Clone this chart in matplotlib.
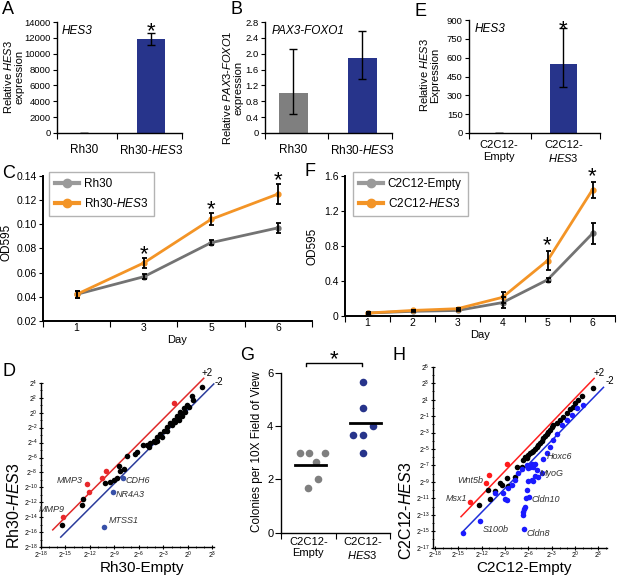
import numpy as np
import matplotlib
matplotlib.use('Agg')
import matplotlib.pyplot as plt
from matplotlib.ticker import FixedLocator, MultipleLocator, NullFormatter
from matplotlib.lines import Line2D

plt.rcParams['font.family'] = ['Liberation Sans', 'DejaVu Sans']
plt.rcParams['mathtext.fontset'] = 'custom'
plt.rcParams['mathtext.rm'] = 'Liberation Sans'
plt.rcParams['mathtext.it'] = 'Liberation Sans:italic'
plt.rcParams['mathtext.bf'] = 'Liberation Sans:bold'

NAVY = '#27348b'
GREY = '#7f7f7f'
LINE_GREY = '#737373'
ORANGE = '#f39426'

# ---------------- data ----------------
# A: relative HES3 expression in Rh30 cells
a_labels = ['Rh30', r'Rh30-$\mathit{HES3}$']
a_vals = [1, 11800]
a_err_lo = [0, 700]
a_err_hi = [0, 775]

# B: relative PAX3-FOXO1 expression
b_labels = ['Rh30', r'Rh30-$\mathit{HES3}$']
b_vals = [1.02, 1.88]
b_err_lo = [0.53, 0.52]
b_err_hi = [1.11, 0.70]

# E: relative HES3 expression in C2C12 cells
e_labels = ['C2C12-\nEmpty', 'C2C12-\n$\\mathit{HES3}$']
e_vals = [1, 550]
e_err_lo = [0, 185]
e_err_hi = [0, 286]

# C: Rh30 growth (OD595)
c_days = ['1', '3', '5', '6']
c_rh30 = [0.042, 0.0566, 0.0847, 0.0970]
c_rh30_err = [0.003, 0.002, 0.002, 0.004]
c_hes3 = [0.042, 0.068, 0.104, 0.125]
c_hes3_err = [0.003, 0.004, 0.005, 0.008]
c_sig = [1, 2, 3]

# F: C2C12 growth (OD595)
f_days = ['1', '2', '3', '4', '5', '6']
f_empty = [0.03, 0.05, 0.06, 0.15, 0.41, 0.94]
f_empty_err = [0.01, 0.01, 0.01, 0.06, 0.02, 0.12]
f_hes3 = [0.03, 0.06, 0.08, 0.21, 0.63, 1.44]
f_hes3_err = [0.01, 0.01, 0.01, 0.06, 0.11, 0.09]
f_sig = [4, 5]

# D: log2 expression, Rh30-Empty (x) vs Rh30-HES3 (y)
d_black_x = [-15.46, -13.0, -12.8, -10.14, -9.6, -9.11, -8.7, -8.5, -8.38, -7.8,
             -7.48, -6.45, -6.25, -5.51, -5.02, -4.61, -4.2, -3.79, -3.38, -2.97,
             -2.56, -2.15, -1.74, -1.33, -0.92, -0.51, -0.1, 0.51, 0.63, 1.74,
             -4.81, -4.0, -2.56, -1.95, -1.54, -1.13, -0.72, -0.31, 0.1, -3.79, -3.18]
d_black_y = [-15.0, -12.33, -11.58, -9.35, -9.22, -9.0, -8.77, -7.13, -7.75, -7.57,
             -5.75, -5.52, -5.21, -4.32, -4.32, -4.1, -3.74, -3.21, -2.85, -2.41,
             -1.96, -1.43, -0.98, -0.45, 0.13, 0.57, 1.02, 2.22, 1.69, 3.47,
             -4.54, -3.88, -2.41, -1.65, -1.21, -0.98, -0.45, 0.13, 0.8, -3.74, -3.21]
d_red_x = [-15.26, -12.31, -12.06, -10.55, -10.01, -1.74]
d_red_y = [-13.89, -9.57, -10.64, -8.68, -7.75, 1.33]
d_blue_x = [-10.26, -9.2, -7.97]
d_blue_y = [-15.31, -10.64, -8.68]
d_up_line = ([-16.56, 1.94], [-15.67, 4.59])
d_dn_line = ([-15.58, 3.17], [-16.64, 3.83])
d_genes = ['MMP3', 'MMP9', 'CDH6', 'NR4A3', 'MTSS1']
d_gene_x = [-12.84, -15.05, -7.68, -8.9, -9.73]
d_gene_y = [-9.1, -12.9, -9.1, -11.0, -14.4]
d_gene_ha = ['right', 'right', 'left', 'left', 'left']

# H: log2 expression, C2C12-Empty (x) vs C2C12-HES3 (y)
h_black_x = [-12.3, -11.14, -10.93, -10.28, -9.64, -8.78, -8.57, -9.43, -7.71, -7.5,
             -6.86, -6.64, -6.43, -6.21, -6.0, -5.78, -5.57, -5.36, -5.14, -4.93,
             -4.71, -4.5, -4.28, -4.07, -3.86, -3.64, -3.43, -3.21, -3.0, -2.78,
             -2.35, -1.93, -1.5, -1.07, -0.64, -0.3, 0.0, 0.43, 0.86, 2.36]
h_black_y = [-11.82, -10.0, -11.13, -10.07, -9.18, -8.57, -9.51, -9.38, -8.37, -7.16,
             -7.16, -6.35, -5.94, -6.14, -5.74, -5.53, -5.33, -5.21, -5.05, -4.72,
             -4.52, -4.32, -4.0, -3.71, -3.43, -3.18, -2.9, -2.7, -2.37, -2.09,
             -1.81, -1.48, -1.08, -0.67, -0.19, 0.14, 0.54, 0.95, 1.43, 2.37]
h_red_x = [-13.5, -11.44, -11.01, -8.7]
h_red_y = [-11.41, -9.1, -8.17, -6.87]
h_blue_x = [-14.36, -12.21, -10.28, -9.21, -9.0, -8.78, -8.57, -8.14, -7.71, -7.28,
            -6.86, -6.21, -6.0, -5.78, -5.57, -5.36, -5.14, -4.93, -5.14, -5.36,
            -6.0, -5.57, -6.13, -5.87, -6.3, -6.56, -6.73, -6.64, -6.56, -6.43,
            -4.07, -4.71, -4.28, -3.64, -3.21, -2.78, -2.35, -1.71, -1.07, -0.43,
            0.21, 1.07]
h_blue_y = [-15.18, -13.72, -10.4, -10.32, -11.13, -11.21, -9.79, -9.38, -8.78, -7.88,
            -7.48, -6.95, -7.36, -7.16, -6.83, -7.16, -6.83, -7.56, -8.29, -8.86,
            -8.86, -8.78, -9.99, -10.8, -11.0, -14.77, -13.03, -12.63, -12.34, -12.02,
            -6.26, -8.37, -7.97, -5.53, -4.72, -3.91, -3.18, -2.09, -1.48, -0.88,
            -0.06, 0.34]
h_up_line = ([-14.66, 2.45], [-13.23, 3.58])
h_dn_line = ([-14.57, 3.65], [-15.18, 2.49])
h_genes = ['Hoxc6', 'MyoG', 'Cldn10', 'S100b', 'Cldn8', 'Wnt5b', 'Msx1']
h_gene_x = [-3.64, -4.5, -5.57, -11.87, -6.21, -11.78, -13.84]
h_gene_y = [-5.86, -7.97, -11.09, -14.77, -15.26, -8.86, -11.0]
h_gene_ha = ['left', 'left', 'left', 'left', 'left', 'right', 'right']

# G: colonies per 10X field of view
g_labels = ['C2C12-\nEmpty', 'C2C12-\n$\\mathit{HES3}$']
g_empty = [3.0, 3.0, 3.0, 2.67, 2.0, 1.67]
g_hes3 = [5.67, 4.67, 4.0, 3.67, 3.67, 3.0]

# ---------------- layout helpers ----------------
W, H = 617, 575
fig = plt.figure(figsize=(W / 100, H / 100), dpi=100)


def px_axes(l, t, r, b):
    return fig.add_axes([l / W, 1 - b / H, (r - l) / W, (b - t) / H])


def px_text(x, y, s, **kw):
    fig.text(x / W, 1 - y / H, s, **kw)


def clean(ax, lw=1.0):
    for s in ['top', 'right']:
        ax.spines[s].set_visible(False)
    for s in ['left', 'bottom']:
        ax.spines[s].set_linewidth(lw)


def cat_axis(ax, n, labels, lo, hi, size, pad):
    ax.set_xlim(lo, hi)
    bounds = [lo] + [i + 0.5 for i in range(n - 1)] + [hi]
    ax.xaxis.set_major_locator(FixedLocator(bounds))
    ax.xaxis.set_major_formatter(NullFormatter())
    ax.xaxis.set_minor_locator(FixedLocator(list(range(n))))
    ax.set_xticklabels(labels, minor=True)
    ax.tick_params(axis='x', which='major', length=4, direction='out')
    ax.tick_params(axis='x', which='minor', length=0, labelsize=size, pad=pad)


def fmt_num(v, dec):
    return '0' if abs(v) < 1e-9 else f'{v:.{dec}f}'


def star(ax, x, y, dy):
    ax.annotate('*', xy=(x, y), xytext=(0, dy), textcoords='offset points',
                ha='center', va='baseline', fontsize=16, annotation_clip=False)


def bar_panel(ax, vals, lo, hi, colors, ymax, step, dec, labels, xlo, xhi, lsize, pad):
    x = np.arange(len(vals))
    ax.bar(x, vals, width=0.42, color=colors, zorder=2)
    ax.errorbar(x, vals, yerr=[lo, hi], fmt='none', ecolor='black',
                elinewidth=1.0, capsize=3, capthick=1.0, zorder=3)
    ax.set_ylim(0, ymax)
    ticks = np.arange(0, ymax + step / 2, step)
    ax.set_yticks(ticks)
    ax.set_yticklabels([fmt_num(t, dec) for t in ticks])
    ax.tick_params(axis='y', length=3, labelsize=6.8, pad=1.5)
    cat_axis(ax, len(vals), labels, xlo, xhi, lsize, pad)
    clean(ax)


# ---------------- A ----------------
axA = px_axes(57, 22, 182, 133)
bar_panel(axA, a_vals, a_err_lo, a_err_hi, [GREY, NAVY], 14000, 2000, 0,
          a_labels, -0.4, 1.47, 8.5, 8)
axA.text(0.04, 0.97, 'HES3', transform=axA.transAxes, style='italic',
         fontsize=8.5, ha='left', va='top')
star(axA, 1, a_vals[1] + a_err_hi[1], -2.5)
px_text(13, 77, 'Relative $\\mathit{HES3}$\nexpression', rotation=90,
        ha='center', va='center', fontsize=8, linespacing=1.1)

# ---------------- B ----------------
axB = px_axes(265, 22, 392, 133)
bar_panel(axB, b_vals, b_err_lo, b_err_hi, [GREY, NAVY], 2.8, 0.4, 1,
          b_labels, -0.41, 1.43, 8.5, 8)
axB.text(0.05, 0.97, 'PAX3-FOXO1', transform=axB.transAxes, style='italic',
         fontsize=8.5, ha='left', va='top')
px_text(232, 88, 'Relative $\\mathit{PAX3}$-$\\mathit{FOXO1}$\nexpression',
        rotation=90, ha='center', va='center', fontsize=8, linespacing=1.1)

# ---------------- E ----------------
axE = px_axes(469, 20, 600, 133)
bar_panel(axE, e_vals, e_err_lo, e_err_hi, [GREY, NAVY], 900, 150, 0,
          e_labels, -0.47, 1.57, 8, 5)
axE.text(0.04, 0.97, 'HES3', transform=axE.transAxes, style='italic',
         fontsize=8.5, ha='left', va='top')
star(axE, 1, e_vals[1] + e_err_hi[1], -5)
px_text(429, 75, 'Relative $\\mathit{HES3}$\nExpression', rotation=90,
        ha='center', va='center', fontsize=8, linespacing=1.1)


# ---------------- growth curves ----------------
def growth_panel(ax, days, s1, e1, s2, e2, names, ylim, step, dec, sig, sig_dy, leg_xy):
    x = np.arange(len(days))
    ax.plot(x, s1, color=LINE_GREY, lw=2.0, marker='o', ms=3.5, zorder=2)
    ax.plot(x, s2, color=ORANGE, lw=2.0, marker='o', ms=3.5, zorder=2)
    for s, e in [(s1, e1), (s2, e2)]:
        ax.errorbar(x, s, yerr=e, fmt='none', ecolor='black', elinewidth=1.3,
                    capsize=1.8, capthick=1.3, zorder=3)
    for i in sig:
        star(ax, i, s2[i] + e2[i], sig_dy)
    ax.set_ylim(*ylim)
    ticks = np.arange(ylim[0], ylim[1] + step / 2, step)
    ax.set_yticks(ticks)
    ax.set_yticklabels([fmt_num(t, dec) for t in ticks])
    ax.tick_params(axis='y', length=3, labelsize=7.5, pad=1.5)
    cat_axis(ax, len(days), days, -0.5, len(days) - 0.5, 7.5, 1.5)
    clean(ax, 1.4)
    handles = [Line2D([0], [0], color='#9a9a9a' if k == 0 else ORANGE, lw=3,
                      marker='o', ms=6) for k in range(2)]
    ax.legend(handles, names, loc='upper left',
              bbox_to_anchor=(leg_xy[0] / W, 1 - leg_xy[1] / H),
              bbox_transform=fig.transFigure, borderaxespad=0, fontsize=8.5,
              frameon=True, fancybox=False, edgecolor='#a0a0a0',
              handlelength=2.0, handletextpad=0.4, borderpad=0.55,
              labelspacing=0.55)
    ax.set_xlabel('Day', fontsize=8, labelpad=1.5)


axC = px_axes(43, 175.7, 312, 321)
growth_panel(axC, c_days, c_rh30, c_rh30_err, c_hes3, c_hes3_err,
             ['Rh30', r'Rh30-$\mathit{HES3}$'], (0.02, 0.14), 0.02, 2,
             c_sig, -1.5, (49, 172))
px_text(7, 242, 'OD595', rotation=90, ha='center', va='center', fontsize=8.5)

axF = px_axes(345, 175.7, 615, 315.7)
growth_panel(axF, f_days, f_empty, f_empty_err, f_hes3, f_hes3_err,
             ['C2C12-Empty', r'C2C12-$\mathit{HES3}$'], (0, 1.6), 0.4, 1,
             f_sig, 0, (353, 172))
px_text(313, 246, 'OD595', rotation=90, ha='center', va='center', fontsize=8.5)


# ---------------- scatter panels ----------------
def log_axes(ax, xr, yr, xstep, ystart, ystep):
    ax.set_xlim(*xr)
    ax.set_ylim(*yr)
    xt = list(range(-18, 4, xstep))
    yt = list(range(ystart, int(yr[1]) + 1, ystep))
    ax.set_xticks(xt)
    ax.set_xticklabels([f'$2^{{{v}}}$' for v in xt])
    ax.set_yticks(yt)
    ax.set_yticklabels([f'$2^{{{v}}}$' for v in yt])
    ax.xaxis.set_minor_locator(MultipleLocator(1))
    ax.yaxis.set_minor_locator(MultipleLocator(1))
    ax.tick_params(which='major', direction='inout', length=3.5, width=0.8,
                   labelsize=5, pad=0.5)
    ax.tick_params(axis='x', which='major', pad=0)
    ax.tick_params(which='minor', direction='inout', length=2, width=0.6)
    clean(ax, 1.0)


axD = px_axes(41, 382.7, 214, 547.3)
log_axes(axD, (-18, 3.2), (-18, 4), 3, -18, 2)
axD.plot(*d_up_line, color='#e02a2a', lw=1.1, clip_on=False)
axD.plot(*d_dn_line, color='#2b3c9c', lw=1.1, clip_on=False)
axD.scatter(d_black_x, d_black_y, s=16, color='black', zorder=3, linewidths=0)
axD.scatter(d_red_x, d_red_y, s=16, color='#e8282b', zorder=3, linewidths=0)
axD.scatter(d_blue_x, d_blue_y, s=16, color='#3750a8', zorder=3, linewidths=0)
for g, gx, gy, ha in zip(d_genes, d_gene_x, d_gene_y, d_gene_ha):
    axD.text(gx, gy, g, style='italic', fontsize=6.5, ha=ha, va='center',
             color='#333333')
axD.text(2.35, 5.33, '+2', fontsize=7, ha='center', va='center')
axD.text(3.79, 4.13, '-2', fontsize=7, ha='center', va='center')
px_text(14, 506, r'Rh30-$\mathit{HES3}$', rotation=90, ha='center', va='center',
        fontsize=11.5)
px_text(142, 572, 'Rh30-Empty', ha='center', va='baseline', fontsize=11)

axH = px_axes(433, 366.7, 607, 547.7)
log_axes(axH, (-18.26, 4.1), (-17, 5), 3, -17, 2)
axH.plot(*h_up_line, color='#ff2020', lw=1.1, clip_on=False)
axH.plot(*h_dn_line, color='#1f2fd8', lw=1.1, clip_on=False)
axH.scatter(h_black_x, h_black_y, s=16, color='black', zorder=3, linewidths=0)
axH.scatter(h_red_x, h_red_y, s=16, color='#ff1a1a', zorder=3, linewidths=0)
axH.scatter(h_blue_x, h_blue_y, s=16, color='#1a1aff', zorder=3, linewidths=0)
for g, gx, gy, ha in zip(h_genes, h_gene_x, h_gene_y, h_gene_ha):
    axH.text(gx, gy, g, style='italic', fontsize=6.5, ha=ha, va='center',
             color='#333333')
axH.text(3.13, 4.27, '+2', fontsize=7, ha='center', va='center')
axH.text(4.5, 3.3, '-2', fontsize=7, ha='center', va='center')
px_text(406, 511, r'C2C12-$\mathit{HES3}$', rotation=90, ha='center',
        va='center', fontsize=11.5)
px_text(524, 572, 'C2C12-Empty', ha='center', va='baseline', fontsize=11)

# ---------------- G ----------------
axG = px_axes(281, 372.7, 390, 532.7)
g_dx = [[-0.15, 0.01, 0.31, 0.15, 0.17, 0.0], [0.0, 0.0, 0.18, -0.17, 0.0, 0.0]]
for k, (vals, col) in enumerate([(g_empty, GREY), (g_hes3, NAVY)]):
    axG.scatter(np.array(g_dx[k]) + k, vals, s=30, color=col, zorder=3,
                linewidths=0, clip_on=False)
    m = np.mean(vals)
    axG.plot([k - 0.24, k + 0.33], [m, m], color='black', lw=2, zorder=4)
axG.plot([-0.04, -0.04, 0.98, 0.98], [6.25, 6.375, 6.375, 6.25], color='black',
         lw=1.0, clip_on=False)
star(axG, 0.47, 6.375, -2)
axG.set_ylim(0, 6)
axG.set_yticks([0, 2, 4, 6])
axG.tick_params(axis='y', length=4, labelsize=8, pad=1.5)
cat_axis(axG, 2, g_labels, -0.5, 1.5, 8, 3)
clean(axG)
px_text(257, 452, 'Colonies per 10X Field of View', rotation=90, ha='center',
        va='center', fontsize=8.5)

# ---------------- panel letters ----------------
for s, x, y in [('A', 2, 1), ('B', 230, 1), ('E', 415, 3), ('C', 2, 165),
                ('F', 305, 163), ('D', 2, 363), ('G', 240, 347), ('H', 393, 347)]:
    px_text(x, y, s, ha='left', va='top', fontsize=13)

fig.savefig('out.png', dpi=100)
